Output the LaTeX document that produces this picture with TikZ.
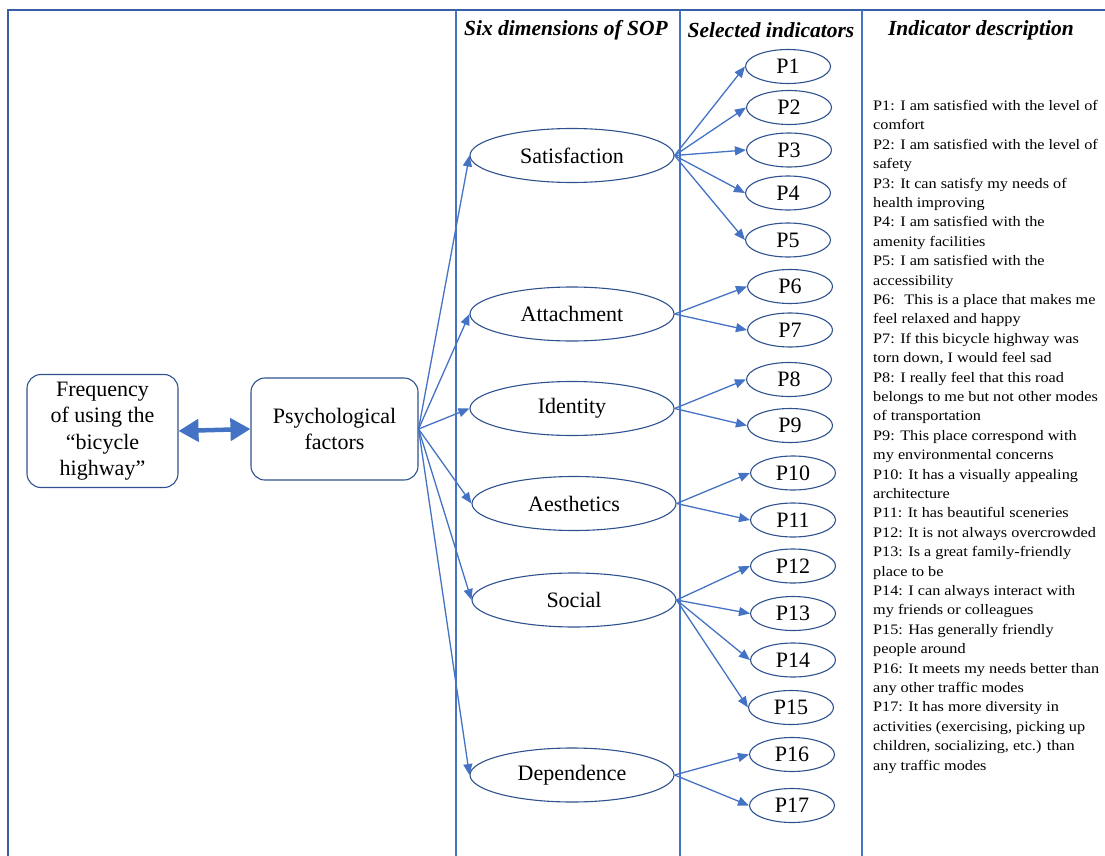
\documentclass[tikz,border=0pt]{standalone}
\usepackage{fontspec}
\setmainfont{Liberation Serif}
\newfontfamily\descfont[FakeStretch=1.12]{Liberation Serif}
\usetikzlibrary{shapes.geometric,arrows.meta}
\definecolor{frameblue}{HTML}{3A5DA8}
\definecolor{lineblue}{HTML}{4472C4}
\definecolor{edgeblue}{HTML}{2F528F}
\tikzset{
  dim/.style={ellipse,draw=edgeblue,line width=1.1pt,minimum width=204pt,minimum height=54pt,inner sep=0pt,font=\fontsize{22}{26}\selectfont},
  pind/.style={ellipse,draw=edgeblue,line width=1.1pt,minimum width=85pt,minimum height=34pt,inner sep=0pt,font=\fontsize{22}{26}\selectfont},
  rbox/.style={rectangle,rounded corners=14pt,draw=edgeblue,line width=1.1pt,align=center,inner sep=0pt,font=\fontsize{22}{26.5}\selectfont},
  conn/.style={draw=lineblue,line width=1.3pt,-{Triangle[length=11pt,width=9pt]}},
  hdr/.style={font=\fontsize{21.5}{24}\selectfont\bfseries\itshape,inner sep=0pt},
  col/.style={draw=lineblue,line width=1.3pt}
}
\begin{document}
\begin{tikzpicture}[x=1pt,y=-1pt]
\useasboundingbox (0,0) rectangle (1105,856);
% frame
\draw[frameblue,line width=2.6pt] (8,856) -- (8,10) -- (1105,10);
\draw[col] (456,10) -- (456,856);
\draw[col] (680,10) -- (680,856);
\draw[col] (862,10) -- (862,856);
% headers
\node[hdr] (h1) at (566,30) {Six dimensions of SOP};
\node[hdr] (h2) at (771,30) {Selected indicators};
\node[hdr] (h3) at (981,30) {Indicator description};
% boxes
\node[rbox,minimum width=151pt,minimum height=113pt] (freq) at (102.5,431) {Frequency\\of using the\\``bicycle\\highway''};
\node[rbox,minimum width=167pt,minimum height=102pt] (psy) at (334.5,429) {Psychological\\factors};
\draw[lineblue,line width=4.5pt,{Triangle[length=20pt,width=22pt]}-{Triangle[length=20pt,width=22pt]}] (freq.east) -- (psy.west);
% dimensions
\node[dim] (sat) at (572,155.5) {Satisfaction};
\node[dim] (att) at (572,314) {Attachment};
\node[dim] (ide) at (572,408.5) {Identity};
\node[dim] (aes) at (574,503.5) {Aesthetics};
\node[dim] (soc) at (574,600) {Social};
\node[dim] (dep) at (572,775) {Dependence};
\foreach \d in {sat,att,ide,aes,soc,dep} \draw[conn] (psy.east) -- (\d.west);
% indicators
\node[pind] (p1) at (788,66.5) {P1};
\node[pind] (p2) at (789,107.5) {P2};
\node[pind] (p3) at (789,150) {P3};
\node[pind] (p4) at (788,193) {P4};
\node[pind] (p5) at (788,240) {P5};
\node[pind] (p6) at (790,286.5) {P6};
\node[pind] (p7) at (790,330) {P7};
\node[pind] (p8) at (789,379.5) {P8};
\node[pind] (p9) at (790,425.5) {P9};
\node[pind] (p10) at (793,473) {P10};
\node[pind] (p11) at (793,520) {P11};
\node[pind] (p12) at (793,566) {P12};
\node[pind] (p13) at (793,613.5) {P13};
\node[pind] (p14) at (793,660) {P14};
\node[pind] (p15) at (791,707.5) {P15};
\node[pind] (p16) at (792,754.5) {P16};
\node[pind] (p17) at (792,805.5) {P17};
\foreach \p in {p1,p2,p3,p4,p5} \draw[conn] (sat.east) -- (\p.west);
\foreach \p in {p6,p7} \draw[conn] (att.east) -- (\p.west);
\foreach \p in {p8,p9} \draw[conn] (ide.east) -- (\p.west);
\foreach \p in {p10,p11} \draw[conn] (aes.east) -- (\p.west);
\foreach \p in {p12,p13,p14,p15} \draw[conn] (soc.east) -- (\p.west);
\foreach \p in {p16,p17} \draw[conn] (dep.east) -- (\p.west);
% description
\node[anchor=north west,align=left,inner sep=0pt,font=\descfont\fontsize{14.5}{19.4}\selectfont] (desc) at (873,100) {%
P1: I am satisfied with the level of\\
comfort\\
P2: I am satisfied with the level of\\
safety\\
P3: It can satisfy my needs of\\
health improving\\
P4: I am satisfied with the\\
amenity facilities\\
P5: I am satisfied with the\\
accessibility\\
P6: \ This is a place that makes me\\
feel relaxed and happy\\
P7: If this bicycle highway was\\
torn down, I would feel sad\\
P8: I really feel that this road\\
belongs to me but not other modes\\
of transportation\\
P9: This place correspond with\\
my environmental concerns\\
P10: It has a visually appealing\\
architecture\\
P11: It has beautiful sceneries\\
P12: It is not always overcrowded\\
P13: Is a great family-friendly\\
place to be\\
P14: I can always interact with\\
my friends or colleagues\\
P15: Has generally friendly\\
people around\\
P16: It meets my needs better than\\
any other traffic modes\\
P17: It has more diversity in\\
activities (exercising, picking up\\
children, socializing, etc.) than\\
any traffic modes};
\end{tikzpicture}
\end{document}
